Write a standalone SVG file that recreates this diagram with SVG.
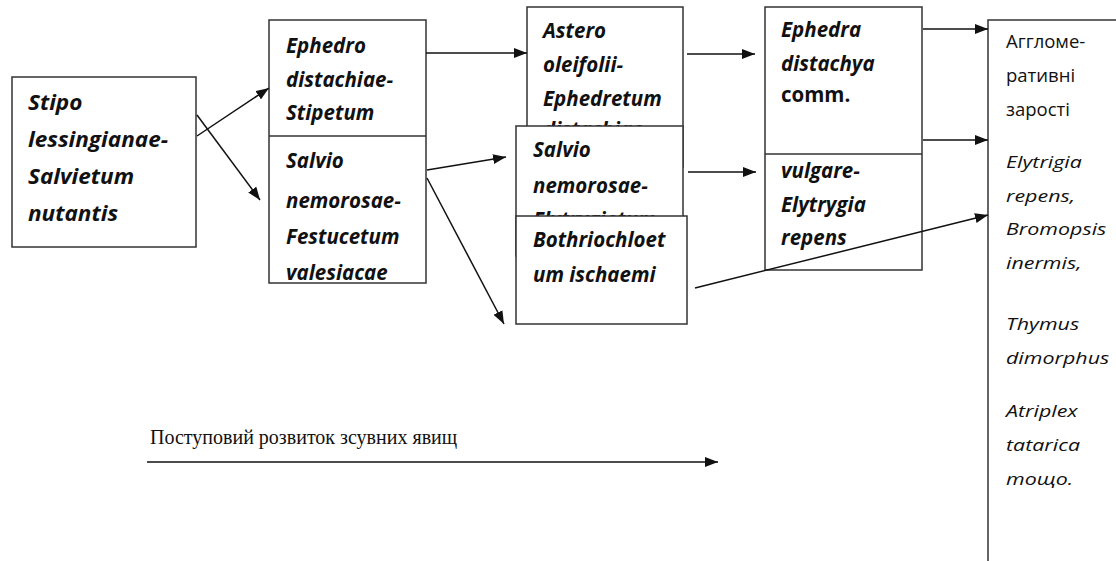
<svg xmlns="http://www.w3.org/2000/svg" width="1116" height="561" viewBox="0 0 1116 561">
<style>
.box{fill:#fff;stroke:#333;stroke-width:1.5}
.t{font-family:"Open Sans","DejaVu Sans",sans-serif;font-size:20.5px;font-weight:bold;font-style:italic;fill:#111}
.b{font-style:normal}
.r{font-family:"Open Sans","DejaVu Sans",sans-serif;font-size:18.5px;fill:#111}
.i{font-family:"Open Sans","DejaVu Sans",sans-serif;font-size:17px;font-style:italic;fill:#111}
.s{font-family:"Liberation Serif","Times New Roman",serif;font-size:20px;fill:#111}
.c{stroke:#111;stroke-width:1.5;fill:none;marker-end:url(#ah)}
</style>
<defs>
<marker id="ah" markerUnits="userSpaceOnUse" markerWidth="14" markerHeight="10" refX="13" refY="5" orient="auto">
<path d="M0,0 L13,5 L0,10 Z" fill="#111"/>
</marker>
</defs>
<rect width="1116" height="561" fill="#fff"/>
<g id="n1">
<rect class="box" x="12" y="77" width="184" height="170"/>
<g transform="translate(28 0) scale(1.1 1)">
<text class="t" x="0" y="110">Stipo</text>
<text class="t" x="0" y="147">lessingianae-</text>
<text class="t" x="0" y="184">Salvietum</text>
<text class="t" x="0" y="221">nutantis</text>
</g>
</g>
<g id="n2">
<rect class="box" x="269" y="20" width="157" height="263"/>
<line class="box" x1="269" y1="136" x2="426" y2="136"/>
<text class="t" x="286" y="53">Ephedro</text>
<text class="t" x="286" y="87">distachiae-</text>
<text class="t" x="286" y="120">Stipetum</text>
<text class="t" x="286" y="168">Salvio</text>
<text class="t" x="286" y="208">nemorosae-</text>
<text class="t" x="286" y="244">Festucetum</text>
<text class="t" x="286" y="280">valesiacae</text>
</g>
<g id="n3">
<rect class="box" x="527" y="7" width="156" height="160"/>
<text class="t" x="543" y="38">Astero</text>
<text class="t" x="543" y="72">oleifolii-</text>
<text class="t" x="543" y="106">Ephedretum</text>
<text class="t" x="543" y="137">distachiae</text>
</g>
<g id="n4">
<rect class="box" x="516" y="126" width="167" height="130"/>
<text class="t" x="533" y="157">Salvio</text>
<text class="t" x="533" y="193">nemorosae-</text>
<text class="t" x="533" y="227">Elytrygietum</text>
</g>
<g id="n5">
<rect class="box" x="516" y="216" width="171" height="108"/>
<text class="t" x="533" y="247">Bothriochloet</text>
<text class="t" x="533" y="282">um ischaemi</text>
</g>
<g id="n6">
<rect class="box" x="765" y="7" width="157" height="263"/>
<line class="box" x1="765" y1="154" x2="922" y2="154"/>
<text class="t" x="781" y="37">Ephedra</text>
<text class="t" x="781" y="71">distachya</text>
<text class="t b" x="781" y="102">comm.</text>
<text class="t" x="781" y="178">vulgare-</text>
<text class="t" x="781" y="212">Elytrygia</text>
<text class="t" x="781" y="245">repens</text>
</g>
<g id="n7">
<rect class="box" x="988" y="20" width="140" height="560"/>
<text class="r" x="1006" y="48">Аггломе-</text>
<text class="r" x="1006" y="82">ративні</text>
<text class="r" x="1006" y="116">зарості</text>
<g transform="translate(1006 0) scale(1.26 1)">
<text class="i" x="0" y="168">Elytrigia</text>
<text class="i" x="0" y="202">repens,</text>
<text class="i" x="0" y="235">Bromopsis</text>
<text class="i" x="0" y="269">inermis,</text>
<text class="i" x="0" y="330">Thymus</text>
<text class="i" x="0" y="364">dimorphus</text>
<text class="i" x="0" y="417">Atriplex</text>
<text class="i" x="0" y="451">tatarica</text>
<text class="i" x="0" y="485">тощо.</text>
</g>
</g>
<g id="connectors">
<line class="c" x1="197" y1="136" x2="269" y2="88"/>
<line class="c" x1="197" y1="115" x2="260" y2="200"/>
<line class="c" x1="426" y1="53" x2="527" y2="53"/>
<line class="c" x1="427" y1="170" x2="506" y2="157"/>
<line class="c" x1="427" y1="178" x2="504" y2="324"/>
<line class="c" x1="687" y1="54" x2="755" y2="54"/>
<line class="c" x1="688" y1="172" x2="756" y2="172"/>
<line class="c" x1="923" y1="29" x2="988" y2="29"/>
<line class="c" x1="923" y1="140" x2="988" y2="140"/>
<line class="c" x1="695" y1="288" x2="988" y2="215"/>
<line class="c" x1="147" y1="462" x2="718" y2="462"/>
</g>
<text class="s" x="150" y="444">Поступовий розвиток зсувних явищ</text>
</svg>
